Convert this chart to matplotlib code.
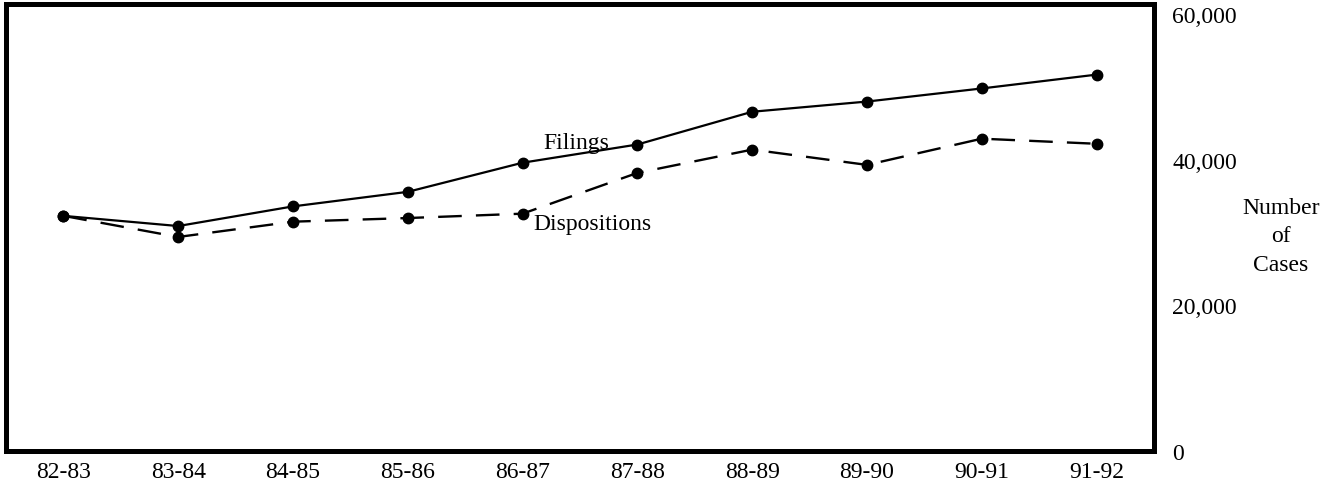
import matplotlib
matplotlib.use("Agg")
import matplotlib.pyplot as plt

years = ["82-83", "83-84", "84-85", "85-86", "86-87", "87-88", "88-89", "89-90", "90-91", "91-92"]
filings = [32300, 30900, 33600, 35600, 39600, 42100, 46600, 48000, 49800, 51700]
dispositions = [32300, 29400, 31500, 32000, 32600, 38200, 41400, 39300, 42900, 42200]
yticks = [0, 20000, 40000, 60000]
ytick_labels = ["0", "20,000", "40,000", "60,000"]

plt.rcParams['font.family'] = ['Liberation Serif', 'DejaVu Serif']

fig = plt.figure(figsize=(13.39, 5.02), dpi=100)
ax = fig.add_axes([6/1339, 1-452/502, (1154-6)/1339, (452-5)/502])

x = list(range(len(years)))
ax.plot(x, filings, color='black', lw=1.6, marker='o', ms=7.5, zorder=3)
ax.plot(x, dispositions, color='black', lw=1.7, marker='o', ms=7.5,
        dashes=(10, 6), zorder=3)

ax.set_xlim(-0.5, 9.5)
ax.set_ylim(0, 61400)
ax.set_xticks(x)
ax.set_xticklabels(years, fontsize=17)
ax.set_yticks(yticks)
ax.set_yticklabels(ytick_labels, fontsize=17)
ax.yaxis.tick_right()
ax.tick_params(axis='y', length=0, pad=13)
ax.tick_params(axis='x', length=0, pad=7)
for s in ax.spines.values():
    s.set_linewidth(3.6)
    s.set_color('black')

ax.text(4.18, 41650, "Filings", fontsize=17, ha='left', va='baseline')
ax.text(4.09, 31200, "Dispositions", fontsize=17, ha='left', va='center')

fig.text(1281/1339, 1-237/502, "Number\nof\nCases", fontsize=17, ha='center',
         va='center', linespacing=1.45)

fig.savefig("out.png", dpi=100, facecolor='white')
